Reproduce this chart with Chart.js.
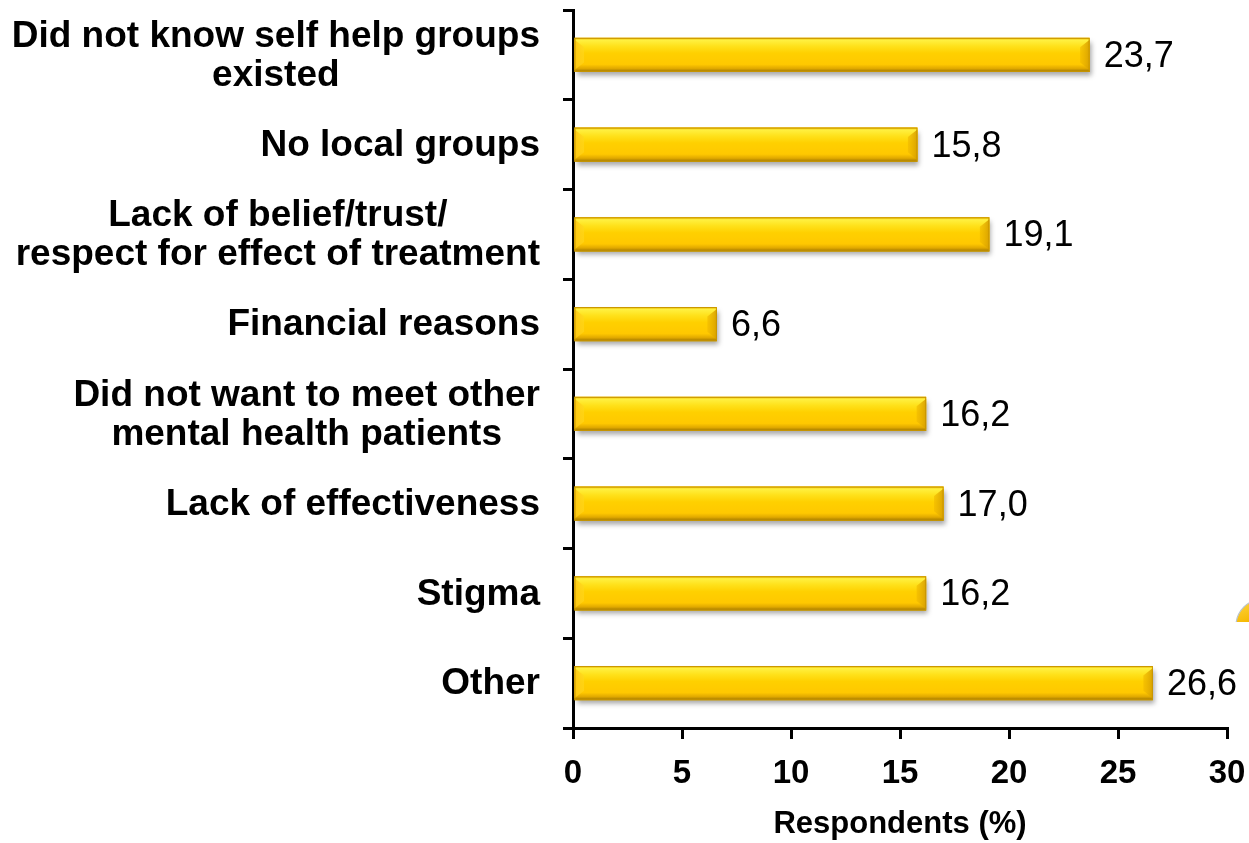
<!DOCTYPE html>
<html>
<head>
<meta charset="utf-8">
<title>Reasons for not attending self help groups</title>
<script src="https://cdn.jsdelivr.net/npm/chart.js@4/dist/chart.umd.min.js"></script>
<style>
  html, body { margin: 0; padding: 0; background: #ffffff; }
  #wrap { width: 1249px; height: 843px; position: relative; }
</style>
</head>
<body>
<div id="wrap"><canvas id="chart" width="1249" height="843"></canvas></div>
<script>
// Reasons given by respondents (multi-line labels as arrays)
const categories = [
  ['Did not know self help groups', 'existed'],
  'No local groups',
  ['Lack of belief/trust/', 'respect for effect of treatment'],
  'Financial reasons',
  ['Did not want to meet other', 'mental health patients'],
  'Lack of effectiveness',
  'Stigma',
  'Other'
];
// Share of respondents, in percent
const respondents = [23.7, 15.8, 19.1, 6.6, 16.2, 17.0, 16.2, 26.6];
// Value axis ticks
const xTicks = [0, 5, 10, 15, 20, 25, 30];
const axisTitle = 'Respondents (%)';

const FONT = '"Liberation Sans", Arial, Helvetica, sans-serif';
const LABEL_SIZE = 37;
const LABEL_LINE = 39;

// Soft drop shadow under each bar
const barShadow = {
  id: 'barShadow',
  beforeDatasetDraw(chart) {
    const ctx = chart.ctx;
    ctx.save();
    ctx.shadowColor = 'rgba(0,0,0,0.35)';
    ctx.shadowBlur = 5;
    ctx.shadowOffsetX = 2;
    ctx.shadowOffsetY = 4;
  },
  afterDatasetDraw(chart) {
    chart.ctx.restore();
  }
};

// Gold bevel shading painted over each bar using the bar element geometry
const barBevel = {
  id: 'barBevel',
  afterDatasetsDraw(chart) {
    const ctx = chart.ctx;
    const meta = chart.getDatasetMeta(0);
    meta.data.forEach((bar) => {
      const p = bar.getProps(['x', 'y', 'base', 'height'], true);
      const left = Math.min(p.base, p.x);
      const right = Math.max(p.base, p.x);
      const top = p.y - p.height / 2;
      const bottom = p.y + p.height / 2;
      const h = bottom - top;
      const bev = Math.min(h * 0.28, (right - left) / 2);

      const g = ctx.createLinearGradient(0, top, 0, bottom);
      g.addColorStop(0, '#EDB800');
      g.addColorStop(0.07, '#FFF040');
      g.addColorStop(0.25, '#FFE11A');
      g.addColorStop(0.45, '#FFD000');
      g.addColorStop(0.78, '#FFC800');
      g.addColorStop(0.9, '#E0A800');
      g.addColorStop(1, '#9C7400');
      ctx.save();
      ctx.fillStyle = g;
      ctx.fillRect(left, top, right - left, h);

      // left end facet (lighter)
      const gl = ctx.createLinearGradient(left, 0, left + bev, 0);
      gl.addColorStop(0, 'rgba(255,200,20,0.95)');
      gl.addColorStop(1, 'rgba(255,214,30,0.6)');
      ctx.fillStyle = gl;
      ctx.beginPath();
      ctx.moveTo(left, top + 2);
      ctx.lineTo(left + bev, top + bev);
      ctx.lineTo(left + bev, bottom - bev);
      ctx.lineTo(left, bottom - 2);
      ctx.closePath();
      ctx.fill();

      // right end facet (darker)
      const gr = ctx.createLinearGradient(right - bev, 0, right, 0);
      gr.addColorStop(0, 'rgba(240,185,0,0.6)');
      gr.addColorStop(1, 'rgba(215,160,0,0.95)');
      ctx.fillStyle = gr;
      ctx.beginPath();
      ctx.moveTo(right, top + 2);
      ctx.lineTo(right - bev, top + bev);
      ctx.lineTo(right - bev, bottom - bev);
      ctx.lineTo(right, bottom - 2);
      ctx.closePath();
      ctx.fill();

      ctx.strokeStyle = '#C89500';
      ctx.lineWidth = 1;
      ctx.strokeRect(left + 0.5, top + 0.5, right - left - 1, h - 1);
      ctx.restore();
    });
  }
};

// Value labels at the end of each bar, decimal comma
const valueLabels = {
  id: 'valueLabels',
  afterDatasetsDraw(chart) {
    const ctx = chart.ctx;
    const meta = chart.getDatasetMeta(0);
    ctx.save();
    ctx.font = '36px ' + FONT;
    ctx.fillStyle = '#000000';
    ctx.textAlign = 'left';
    ctx.textBaseline = 'middle';
    meta.data.forEach((bar, i) => {
      const txt = respondents[i].toFixed(1).replace('.', ',');
      ctx.fillText(txt, bar.x + 14, bar.y + 2);
    });
    ctx.restore();
  }
};

// Category labels: block right-aligned to the axis, lines centred within the block
const categoryLabels = {
  id: 'categoryLabels',
  afterDraw(chart) {
    const ctx = chart.ctx;
    const yScale = chart.scales.y;
    const rightEdge = yScale.right - 33;
    ctx.save();
    ctx.font = 'bold ' + LABEL_SIZE + 'px ' + FONT;
    ctx.fillStyle = '#000000';
    ctx.textAlign = 'center';
    ctx.textBaseline = 'middle';
    categories.forEach((label, i) => {
      const lines = Array.isArray(label) ? label : [label];
      const maxW = Math.max(...lines.map(l => ctx.measureText(l).width));
      const cx = rightEdge - maxW / 2;
      const cy = yScale.getPixelForValue(i);
      const startY = cy - (lines.length - 1) * LABEL_LINE / 2;
      lines.forEach((line, k) => {
        ctx.fillText(line, cx, startY + k * LABEL_LINE + 1);
      });
    });
    ctx.restore();
  }
};

// Clipped corner of a neighbouring yellow shape at the right edge
const edgeShape = {
  id: 'edgeShape',
  afterDraw(chart) {
    const ctx = chart.ctx;
    const w = chart.width;
    ctx.save();
    ctx.beginPath();
    ctx.rect(0, 0, w, 622);
    ctx.clip();
    const g = ctx.createLinearGradient(w - 10, 598, w, 622);
    g.addColorStop(0, '#FFD84A');
    g.addColorStop(1, '#F5B800');
    ctx.fillStyle = g;
    ctx.strokeStyle = '#B9C4CC';
    ctx.lineWidth = 1.2;
    ctx.beginPath();
    ctx.arc(w + 14, 626, 27, 0, Math.PI * 2);
    ctx.fill();
    ctx.stroke();
    ctx.restore();
  }
};

new Chart(document.getElementById('chart'), {
  type: 'bar',
  data: {
    labels: categories,
    datasets: [{
      data: respondents,
      backgroundColor: '#FFCC00',
      borderWidth: 0,
      barPercentage: 0.38,
      categoryPercentage: 1.0
    }]
  },
  options: {
    indexAxis: 'y',
    responsive: false,
    animation: false,
    devicePixelRatio: 1,
    layout: { padding: { left: 0, right: 22, top: 10, bottom: 0 } },
    plugins: {
      legend: { display: false },
      tooltip: { enabled: false }
    },
    scales: {
      x: {
        min: 0,
        max: 30,
        afterBuildTicks(scale) {
          scale.ticks = xTicks.map(v => ({ value: v }));
        },
        afterFit(scale) {
          scale.height = 115;
          scale.paddingLeft = 0;
          scale.paddingRight = 0;
        },
        border: { display: true, color: '#000000', width: 3 },
        grid: {
          display: true,
          drawOnChartArea: false,
          drawTicks: true,
          tickLength: 11,
          color: '#000000',
          lineWidth: 3
        },
        ticks: {
          padding: 15,
          color: '#000000',
          font: { family: FONT, size: 33, weight: 'bold' }
        },
        title: {
          display: true,
          text: axisTitle,
          color: '#000000',
          padding: { top: 8, bottom: 0 },
          font: { family: FONT, size: 31, weight: 'bold' }
        }
      },
      y: {
        afterFit(scale) {
          scale.width = 573;
          scale.paddingTop = 0;
          scale.paddingBottom = 0;
        },
        border: { display: true, color: '#000000', width: 3 },
        grid: {
          display: true,
          offset: true,
          drawOnChartArea: false,
          drawTicks: true,
          tickLength: 10,
          color: '#000000',
          lineWidth: 3
        },
        ticks: {
          display: false,
          font: { family: FONT, size: LABEL_SIZE, weight: 'bold' }
        }
      }
    }
  },
  plugins: [barShadow, barBevel, valueLabels, categoryLabels, edgeShape]
});
</script>
</body>
</html>
